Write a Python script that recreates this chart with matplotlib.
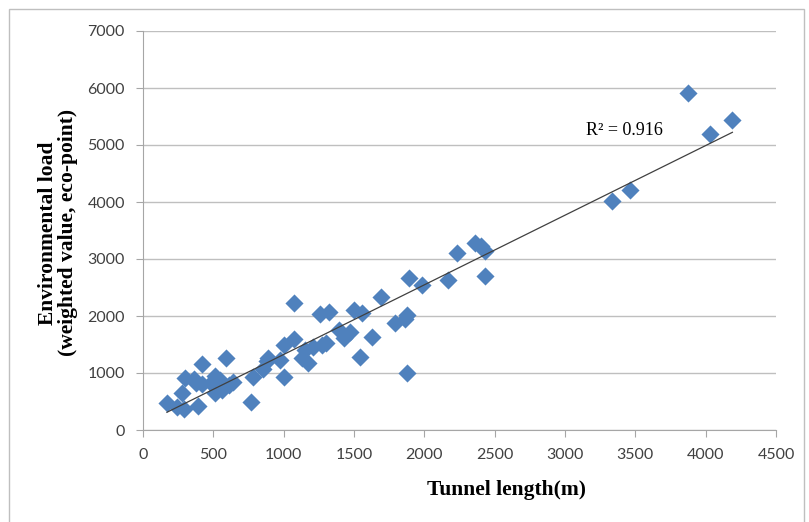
import numpy as np
import matplotlib
matplotlib.use("Agg")
import matplotlib.pyplot as plt
from matplotlib.patches import Rectangle

# tunnel length (m) and environmental load (eco-point)
longueur = [170, 240, 290, 280, 300, 360, 380, 390, 420, 420, 480, 510, 510, 545,
            560, 590, 610, 640, 765, 785, 850, 885, 890, 975, 1000, 1005, 1075,
            1070, 1130, 1155, 1170, 1210, 1260, 1275, 1300, 1320, 1395, 1430,
            1475, 1500, 1545, 1555, 1630, 1690, 1795, 1865, 1875, 1890, 1880,
            1980, 2170, 2235, 2360, 2400, 2430, 2430, 3335, 3465, 3875, 4030, 4190]
charge = [470, 400, 370, 650, 910, 900, 820, 420, 1150, 800, 820, 650, 950, 880,
          700, 1260, 790, 840, 490, 930, 1070, 1210, 1260, 1230, 930, 1490, 2230,
          1600, 1260, 1400, 1180, 1450, 2030, 1490, 1530, 2070, 1750, 1610,
          1720, 2100, 1280, 2050, 1630, 2330, 1880, 1950, 1000, 2660, 2010,
          2540, 2630, 3100, 3280, 3230, 3140, 2700, 4020, 4210, 5910, 5190, 5440]
r2_texte = "R² = 0.916"

fig = plt.figure(figsize=(8.09, 5.22), dpi=100)
ax = fig.add_axes([143 / 809, 1 - 430 / 522, 633 / 809, 399 / 522])

# cadre gris autour du graphique
fig.patches.append(Rectangle((9 / 809, -0.05), 795 / 809, 1.05 - 9 / 522,
                             transform=fig.transFigure, fill=False,
                             edgecolor="#bfbfbf", linewidth=1.0))

x = np.array(longueur)
y = np.array(charge)
ax.scatter(x, y, marker="D", s=85, color="#4f81bd", linewidths=0, zorder=3)

# droite de tendance
a, b = np.polyfit(x, y, 1)
xs = np.array([x.min(), x.max()])
ax.plot(xs, a * xs + b, color="#404040", linewidth=0.9, zorder=4)
ax.text(3150, 5260, r2_texte, fontsize=13, family="Liberation Serif",
        va="center", ha="left")

ax.set_xlim(0, 4500)
ax.set_ylim(0, 7000)
ax.set_xticks(range(0, 4501, 500))
ax.set_yticks(range(0, 7001, 1000))
ax.grid(axis="y", color="#bfbfbf", linewidth=1.0)
ax.set_axisbelow(True)
for s in ["top", "right"]:
    ax.spines[s].set_visible(False)
for s in ["left", "bottom"]:
    ax.spines[s].set_color("#a6a6a6")
ax.tick_params(axis="both", colors="#a6a6a6", length=5, labelcolor="#404040",
               labelsize=11.5, direction="out", pad=8)
for lab in ax.get_xticklabels() + ax.get_yticklabels():
    lab.set_family("Lato")

ax.set_xlabel("Tunnel length(m)", fontsize=15.5, fontweight="bold",
              family="Liberation Serif")
ax.xaxis.set_label_coords(0.575, -0.125)
ax.set_ylabel("Environmental load\n(weighted value, eco-point)", fontsize=15.5,
              fontweight="bold", family="Liberation Serif", linespacing=1.0)
ax.yaxis.set_label_coords(-0.103, 0.494)

plt.savefig("out.png", dpi=100)
